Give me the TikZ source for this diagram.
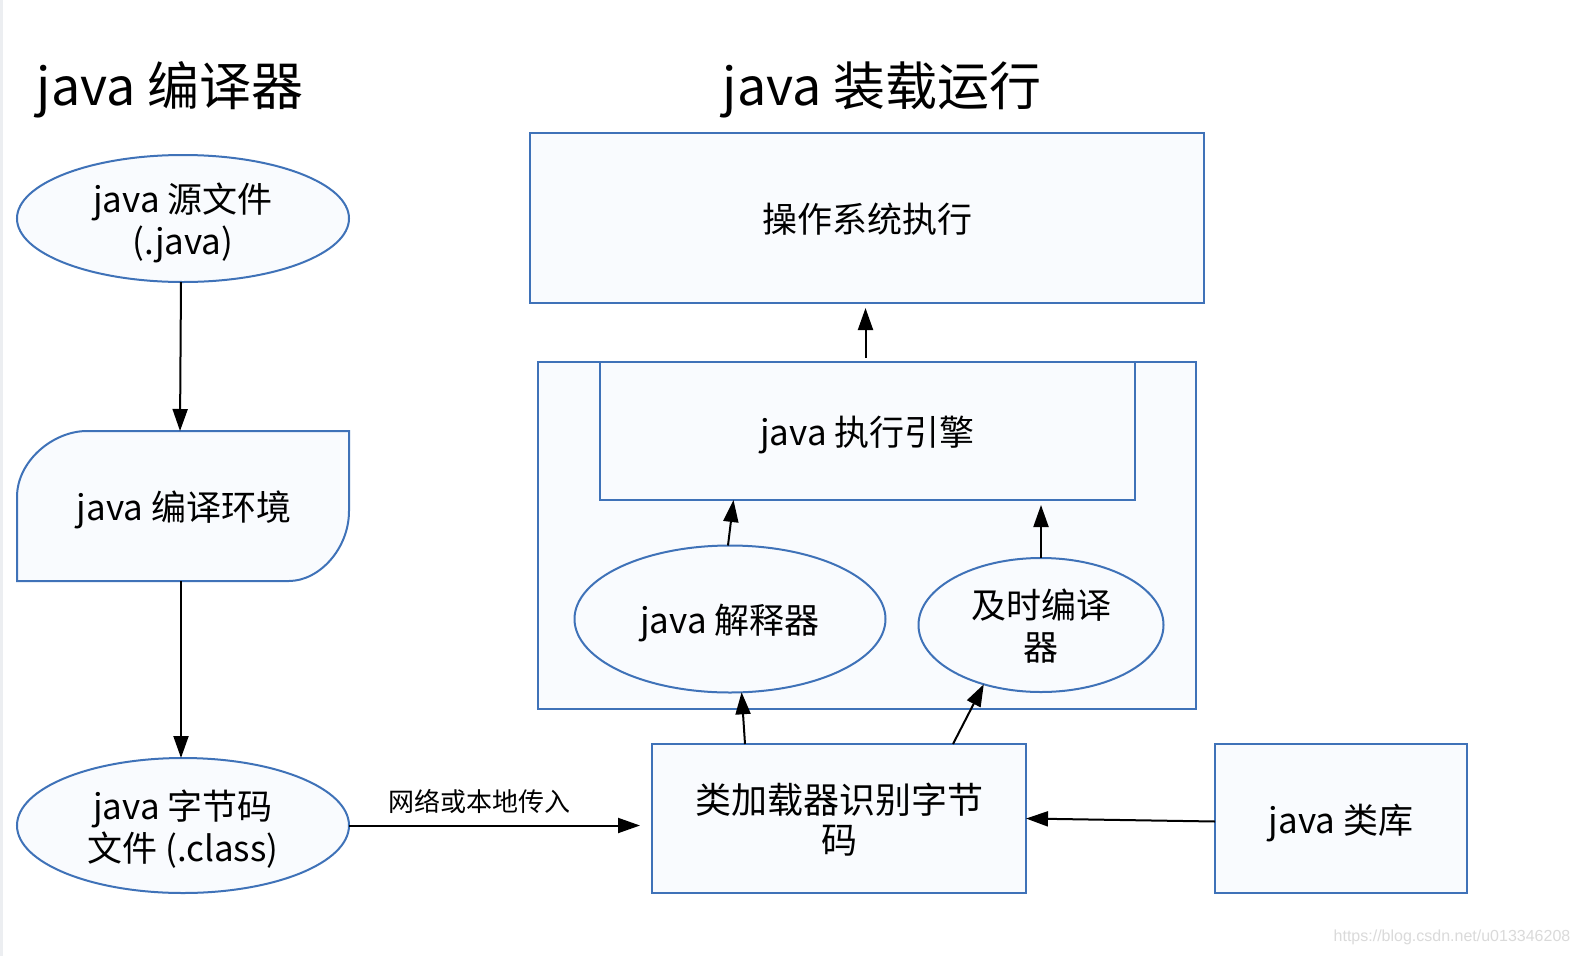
\documentclass[tikz,border=0pt]{standalone}
\usepackage{fontspec}
\setmainfont{Noto Sans CJK SC}
\newfontfamily\wmfont{Liberation Sans}
\usetikzlibrary{shapes.geometric,arrows.meta}
\definecolor{bordercol}{HTML}{3F72B8}
\definecolor{boxfill}{HTML}{F9FBFE}
\definecolor{stripcol}{HTML}{ECEEF1}
\definecolor{wmcol}{HTML}{DADADA}
\begin{document}
\begin{tikzpicture}[x=1pt,y=-1pt,
  every node/.style={inner sep=0pt, outer sep=0pt},
  nodefont/.style={font=\fontsize{35}{42}\selectfont, text depth=0pt},
  box/.style={draw=bordercol, line width=2pt, fill=boxfill, rectangle, align=center, nodefont},
  ell/.style={draw=bordercol, line width=2pt, fill=boxfill, ellipse, align=center, nodefont},
  envbox/.style={rectangle, align=center, nodefont, minimum width=332pt, minimum height=150pt},
  envline/.style={draw=bordercol, line width=2pt, fill=boxfill},
  titletext/.style={font=\fontsize{52}{60}\selectfont, text depth=0pt},
  labeltext/.style={font=\fontsize{26}{30}\selectfont},
  arr/.style={draw=black, line width=2pt, -{Triangle[length=22pt,width=15pt]}},
]
\useasboundingbox (0,0) rectangle (1580,956);
\fill[white] (0,0) rectangle (1580,956);
\fill[stripcol] (0,0) rectangle (3,956);

% titles
\node[titletext] (t1) at (170,84) {java 编译器};
\node[titletext] (t2) at (882,84) {java 装载运行};

% left column
\node[ell, minimum width=332pt, minimum height=127pt] (src) at (183,218.5) {java 源文件\\(.java)};

\coordinate (envnw) at (17,431);
\coordinate (envse) at (349,581);
\draw[envline] (envnw |- envse) -- ([yshift=-66pt]envnw)
  .. controls ([yshift=-30pt]envnw) and ([xshift=36pt]envnw) .. ([xshift=70pt]envnw)
  -- (envse |- envnw) -- ([yshift=70pt]envse)
  .. controls ([yshift=32pt]envse) and ([xshift=-30pt]envse) .. ([xshift=-60pt]envse)
  -- cycle;
\node[envbox] (env) at (184,506) {java 编译环境};

\node[ell, minimum width=332pt, minimum height=135pt] (cls) at (183,825.5) {java 字节码\\文件 (.class)};

% right part
\node[box, minimum width=674pt, minimum height=170pt] (os) at (867,218) {操作系统执行};
\node[box, minimum width=658pt, minimum height=347pt] (exec) at (867,535.5) {};
\node[box, minimum width=535pt, minimum height=138pt] (engine) at (867.5,431) {java 执行引擎};
\node[ell, minimum width=311pt, minimum height=147pt] (interp) at (730,619) {java 解释器};
\node[ell, minimum width=245pt, minimum height=134pt] (jit) at (1041,625) {及时编译\\器};
\node[box, minimum width=374pt, minimum height=149pt, font=\fontsize{36}{40}\selectfont] (loader) at (839,818.5) {类加载器识别字节\\码};
\node[box, minimum width=252pt, minimum height=149pt] (lib) at (1341,818.5) {java 类库};

% connectors
\draw[arr] ([xshift=-2pt]src.south) -- ([xshift=-4pt]env.north);
\draw[arr] ([xshift=-3pt]env.south) -- ([xshift=-2pt]cls.north);
\draw[arr, shorten >=12pt] (cls.east) -- (loader.west |- cls.east)
  node[labeltext, midway, above=12pt, xshift=-21pt] (lbl) {网络或本地传入};
\draw[arr] ([yshift=-3pt]lib.west) -- (loader.east);
\draw[arr] ([xshift=-94pt]loader.north) -- (interp.-81);
\draw[arr] ([xshift=114pt]loader.north) -- (jit.-134);
\draw[arr] ([xshift=-2pt]interp.north) -- ([xshift=-134pt]engine.south);
\draw[arr, shorten >=5pt] (jit.north) -- (jit.north |- engine.south);
\draw[arr, shorten >=5pt, shorten <=4pt] ([xshift=-2pt]engine.north) -- ([xshift=-2pt]engine.north |- os.south);

% watermark
\node[font=\wmfont\fontsize{16}{19}\selectfont, text=wmcol] (wm) at (1452,937) {https://blog.csdn.net/u013346208};
\end{tikzpicture}
\end{document}
